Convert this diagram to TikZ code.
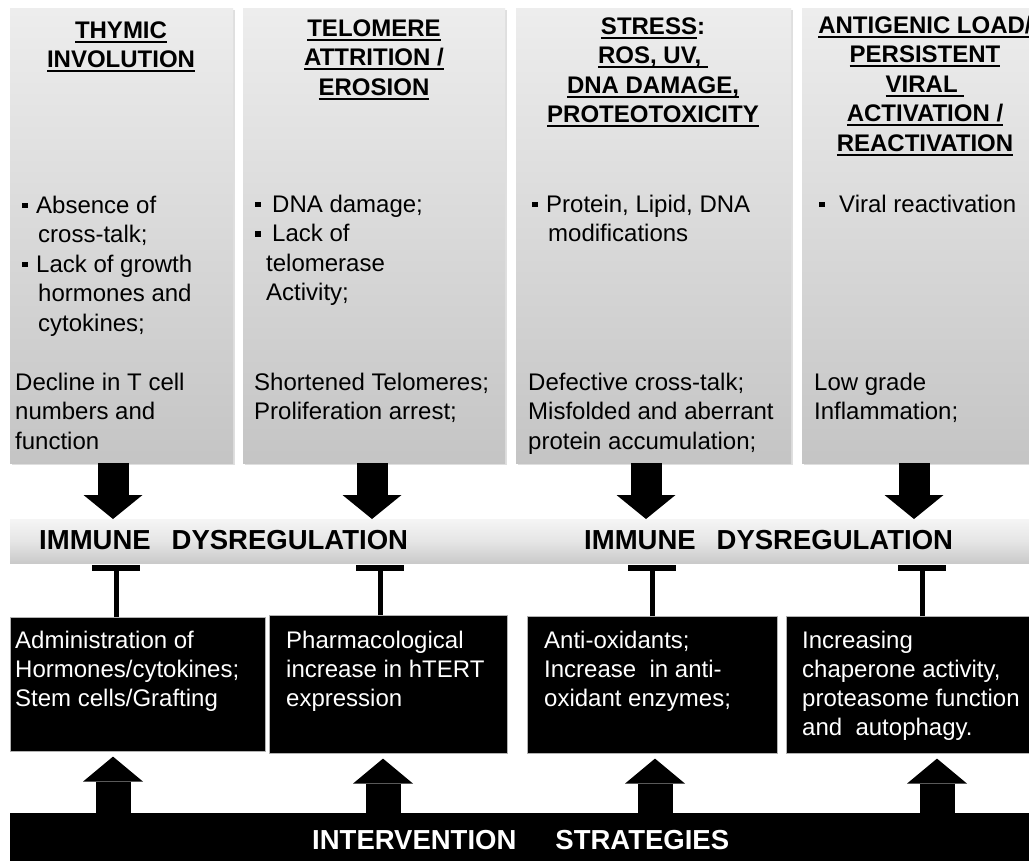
\documentclass[tikz,border=0pt]{standalone}
\usepackage{fontspec}
\setmainfont{Liberation Sans}
\usetikzlibrary{arrows.meta,shadows,calc}
\newsavebox\hulbox
\newcommand{\hul}[1]{\sbox\hulbox{#1}\rlap{\rule[-4.5pt]{\wd\hulbox}{2pt}}\usebox\hulbox}
\newcommand{\bul}{\makebox[14pt][l]{\rule[5pt]{5.5pt}{5.5pt}}}
\tikzset{
  topbox/.style={anchor=north west, inner sep=0, draw=none, top color=gray!14, bottom color=gray!46,
    drop shadow={shadow xshift=2pt, shadow yshift=-2pt, opacity=0.25}},
  blackbox/.style={anchor=north west, inner sep=0, fill=black, draw=gray!60, line width=0.6pt},
  head/.style={anchor=north, inner sep=0, align=center, font=\fontsize{24}{29.5}\selectfont\bfseries},
  tx/.style={anchor=north west, inner sep=0, align=left, font=\fontsize{24}{29.5}\selectfont},
  wtx/.style={anchor=north west, inner sep=0, align=left, text=white, font=\fontsize{24}{29}\selectfont},
  bandtx/.style={anchor=base west, inner sep=0, font=\fontsize{27.5}{33}\selectfont\bfseries},
  downarrow/.style={line width=31pt, -{Triangle[width=59pt,length=24pt,line width=0pt]}},
  uparrow/.style={line width=35pt, shorten >=5pt, -{Triangle[width=60pt,length=25pt,line width=0pt]}},
  tbar/.style={line width=5pt, -{Bar[width=48pt,line width=6pt]}}
}
\begin{document}
\begin{tikzpicture}[x=1pt,y=-1pt]
\useasboundingbox[fill=white] (0,0) rectangle (1029,861);
% top boxes
\node[topbox, minimum width=223pt, minimum height=455pt] (t1) at (10,8) {};
\node[topbox, minimum width=262pt, minimum height=455pt] (t2) at (243,8) {};
\node[topbox, minimum width=275pt, minimum height=455pt] (t3) at (516,8) {};
\node[topbox, minimum width=238pt, minimum height=455pt] (t4) at (802,8) {};
% headers
\node[head] (h1) at (121,17.35) {\strut\hul{THYMIC}\\\hul{INVOLUTION}};
\node[head] (h2) at (374,15.35) {\strut\hul{TELOMERE}\\\hul{ATTRITION /}\\\hul{EROSION}};
\node[head] (h3) at (653,13.35) {\strut\hul{STRESS}:\\\hul{ROS, UV,\ }\\\hul{DNA DAMAGE,}\\\hul{PROTEOTOXICITY}};
\node[head] (h4) at (925,12.35) {\strut\hul{ANTIGENIC LOAD/}\\\hul{PERSISTENT}\\\hul{VIRAL\ }\\\hul{ACTIVATION /}\\\hul{REACTIVATION}};
% body texts
\node[tx] (p1) at (22,192.35) {\strut\bul Absence of\\\hspace*{16pt}cross-talk;\\\bul Lack of growth\\\hspace*{16pt}hormones and\\\hspace*{16pt}cytokines;};
\node[tx] (q1) at (15,369.35) {\strut Decline in T cell\\numbers and\\function};
\node[tx] (p2) at (255,191.35) {\strut\makebox[17pt][l]{\rule[5pt]{5.5pt}{5.5pt}}DNA damage;\\\makebox[17pt][l]{\rule[5pt]{5.5pt}{5.5pt}}Lack of\\\hspace*{11pt}telomerase\\\hspace*{11pt}Activity;};
\node[tx] (q2) at (254,369.35) {\strut Shortened Telomeres;\\Proliferation arrest;};
\node[tx] (p3) at (532,191.35) {\strut\bul Protein, Lipid, DNA\\\hspace*{16pt}modifications};
\node[tx] (q3) at (528,369.35) {\strut Defective cross-talk;\\Misfolded and aberrant\\protein accumulation;};
\node[tx] (p4) at (819,191.35) {\strut\makebox[20pt][l]{\rule[5pt]{5.5pt}{5.5pt}}Viral reactivation};
\node[tx] (q4) at (814,369.35) {\strut Low grade\\Inflammation;};
% band
\node[anchor=north west, inner sep=0, minimum width=1025pt, minimum height=44pt,
  top color=gray!8, bottom color=gray!42, middle color=gray!20] (band) at (10,519) {};
\node[bandtx] (im1) at (39,549) {IMMUNE\hspace{21pt}DYSREGULATION};
\node[bandtx] (im2) at (584,549) {IMMUNE\hspace{21pt}DYSREGULATION};
% black boxes
\node[blackbox, minimum width=255pt, minimum height=134pt] (b1) at (10,617) {};
\node[blackbox, minimum width=238pt, minimum height=138pt] (b2) at (269,615) {};
\node[blackbox, minimum width=250pt, minimum height=137pt] (b3) at (527,616) {};
\node[blackbox, minimum width=254pt, minimum height=137pt] (b4) at (786,616) {};
\node[wtx] (w1) at (15,627.7) {\strut Administration of\\Hormones/cytokines;\\Stem cells/Grafting};
\node[wtx] (w2) at (286,627.7) {\strut Pharmacological\\increase in hTERT\\expression};
\node[wtx] (w3) at (544,627.7) {\strut Anti-oxidants;\\Increase\ \ in anti-\\oxidant enzymes;};
\node[wtx] (w4) at (802,627.7) {\strut Increasing\\chaperone activity,\\proteasome function\\and\ \ autophagy.};
% bottom band
\node[anchor=north west, inner sep=0, fill=black, minimum width=1030pt, minimum height=60pt] (iv) at (10,813) {};
\node[bandtx, text=white] (ivt) at (312,849) {INTERVENTION\hspace{39pt}STRATEGIES};
% x positions
\coordinate (d1) at (113,0); \coordinate (d2) at (372,0); \coordinate (d3) at (646,0); \coordinate (d4) at (914,0);
\coordinate (k1) at (116,0); \coordinate (k2) at (380,0); \coordinate (k3) at (652,0); \coordinate (k4) at (922,0);
\coordinate (u1) at (113,0); \coordinate (u2) at (383,0); \coordinate (u3) at (655,0); \coordinate (u4) at (937,0);
% arrows and inhibition bars
\foreach \i in {1,...,4} {
  \draw[downarrow] (t\i.south -| d\i) -- (band.north -| d\i);
  \draw[tbar] (b\i.north -| k\i) -- ($(band.south -| k\i)+(0,2)$);
  \draw[uparrow] (iv.north -| u\i) -- (b\i.south -| u\i);
}
\end{tikzpicture}
\end{document}
